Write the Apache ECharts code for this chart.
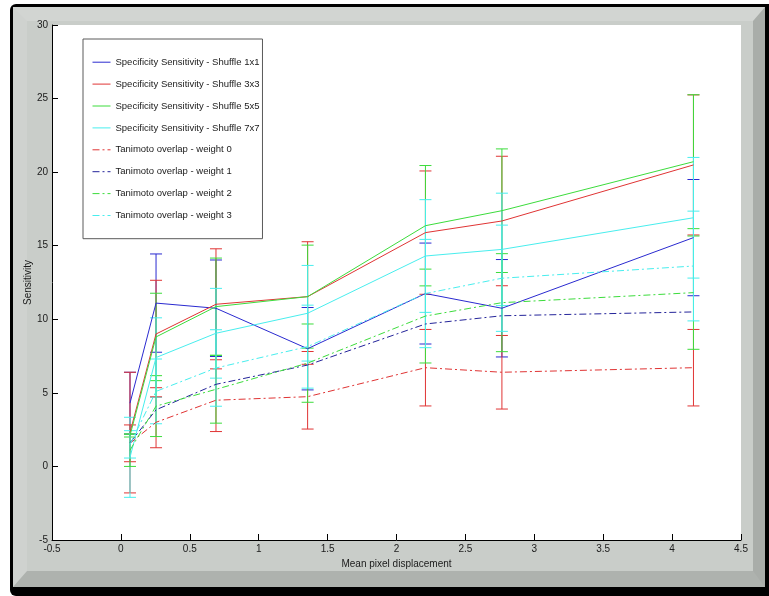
<!DOCTYPE html>
<html>
<head>
<meta charset="utf-8">
<script src="https://cdn.jsdelivr.net/npm/echarts@6/dist/echarts.min.js"></script>
<style>
  html, body { margin: 0; padding: 0; background: #ffffff; }
  #stage { position: relative; width: 769px; height: 596px; overflow: hidden; }
  /* figure window: black shadow frame with a bevelled grey panel */
  #shadow { position: absolute; left: 10px; top: 4px; width: 759px; height: 592px;
            background: #000; border-radius: 6px 0 0 6px; }
  #panel { position: absolute; left: 13px; top: 7px; width: 752px; height: 580px;
           box-sizing: border-box; background: #c9cdc9;
           border-top: 14px solid #d2d5d2; border-left: 14px solid #cfd2cf;
           border-right: 12px solid #a9ada9; border-bottom: 16px solid #aeb2ae; }
  #chart { position: absolute; left: 0; top: 0; width: 769px; height: 596px; }
</style>
</head>
<body>
<div id="stage">
  <div id="shadow"></div>
  <div id="panel"></div>
  <div id="chart"></div>
</div>
<script>
// Mean pixel displacement at which each condition was measured
const displacement = [0.066, 0.255, 0.69, 1.355, 2.21, 2.765, 4.155];

// Specificity sensitivity (mean and standard deviation) per shuffle size
const shuffle1x1 = [4.3, 11.1, 10.75, 8.0, 11.75, 10.75, 15.55];
const shuffle1x1Err = [2.1, 3.34, 3.28, 2.8, 3.43, 3.31, 3.95];
const shuffle3x3 = [2.3, 9.0, 11.02, 11.54, 15.89, 16.68, 20.49];
const shuffle3x3Err = [4.1, 3.65, 3.77, 3.73, 4.19, 4.4, 4.76];
const shuffle5x5 = [2.1, 8.8, 10.86, 11.54, 16.36, 17.38, 20.71];
const shuffle5x5Err = [0.1, 2.97, 3.3, 3.5, 4.09, 4.2, 4.55];
const shuffle7x7 = [0.62, 7.4, 9.05, 10.41, 14.3, 14.75, 16.9];
const shuffle7x7Err = [2.72, 2.7, 3.05, 3.25, 3.83, 3.82, 4.1];

// Tanimoto overlap per weight
const weight0 = [1.57, 3.0, 4.5, 4.74, 6.71, 6.4, 6.71];
const weight0Err = [1.25, 1.73, 2.13, 2.2, 2.6, 2.5, 2.6];
const weight1 = [1.6, 3.85, 5.58, 6.89, 9.68, 10.24, 10.5];
const weight1Err = null;
const weight2 = [1.1, 4.1, 5.24, 7.02, 10.22, 11.13, 11.81];
const weight2Err = [1.1, 2.07, 2.3, 2.66, 3.19, 3.33, 3.85];
const weight3 = [1.5, 5.1, 6.69, 8.14, 11.75, 12.79, 13.62];
const weight3Err = [0.93, 2.2, 2.6, 2.82, 3.68, 3.61, 3.73];

// Axis ticks
const xTicks = { min: -0.5, max: 4.5, interval: 0.5 };
const yTicks = { min: -5, max: 30, interval: 5 };

const BLUE = '#2a2ad0', RED = '#e03434', GREEN = '#3cdc3c', CYAN = '#48eeee';
const DASH_DOT = [7, 3, 2, 3];

const groups = [
  { name: 'Specificity Sensitivity - Shuffle 1x1', y: shuffle1x1, e: shuffle1x1Err, color: BLUE, dash: 'solid' },
  { name: 'Specificity Sensitivity - Shuffle 3x3', y: shuffle3x3, e: shuffle3x3Err, color: RED, dash: 'solid' },
  { name: 'Specificity Sensitivity - Shuffle 5x5', y: shuffle5x5, e: shuffle5x5Err, color: GREEN, dash: 'solid' },
  { name: 'Specificity Sensitivity - Shuffle 7x7', y: shuffle7x7, e: shuffle7x7Err, color: CYAN, dash: 'solid' },
  { name: 'Tanimoto overlap - weight 0', y: weight0, e: weight0Err, color: RED, dash: DASH_DOT },
  { name: 'Tanimoto overlap - weight 1', y: weight1, e: weight1Err, color: '#24249a', dash: DASH_DOT },
  { name: 'Tanimoto overlap - weight 2', y: weight2, e: weight2Err, color: GREEN, dash: DASH_DOT },
  { name: 'Tanimoto overlap - weight 3', y: weight3, e: weight3Err, color: CYAN, dash: DASH_DOT }
];

function errorBarRenderer(color) {
  return function (params, api) {
    const x = api.value(0), y = api.value(1), e = api.value(2);
    const top = api.coord([x, y + e]);
    const bot = api.coord([x, y - e]);
    const hw = 6;
    const style = { stroke: color, lineWidth: 1, fill: null };
    return {
      type: 'group',
      children: [
        { type: 'line', shape: { x1: top[0], y1: top[1], x2: bot[0], y2: bot[1] }, style: style },
        { type: 'line', shape: { x1: top[0] - hw, y1: top[1], x2: top[0] + hw, y2: top[1] }, style: style },
        { type: 'line', shape: { x1: bot[0] - hw, y1: bot[1], x2: bot[0] + hw, y2: bot[1] }, style: style }
      ]
    };
  };
}

const series = [];
groups.forEach(function (g) {
  if (g.e) {
    series.push({
      name: g.name + ' (error)',
      type: 'custom',
      renderItem: errorBarRenderer(g.color),
      data: displacement.map(function (x, i) { return [x, g.y[i], g.e[i]]; }),
      encode: { x: 0, y: 1 },
      silent: true,
      clip: false
    });
  }
  series.push({
    name: g.name,
    type: 'line',
    symbol: 'none',
    showSymbol: false,
    color: g.color,
    data: displacement.map(function (x, i) { return [x, g.y[i]]; }),
    lineStyle: { color: g.color, width: 1, type: g.dash },
    itemStyle: { color: g.color },
    silent: true,
    animation: false
  });
});

const FONT = 'Liberation Sans, Arial, sans-serif';
const chart = echarts.init(document.getElementById('chart'), null, { renderer: 'canvas' });
chart.setOption({
  animation: false,
  backgroundColor: 'transparent',
  grid: { left: 52, right: 28, top: 25, bottom: 56, show: true, backgroundColor: '#ffffff', borderWidth: 0 },
  legend: {
    data: groups.map(function (g) {
      return { name: g.name,
               lineStyle: { color: g.color, width: 1, type: g.dash, opacity: 1 },
               itemStyle: { color: 'rgba(0,0,0,0)', borderWidth: 0 } };
    }),
    orient: 'vertical',
    left: 83, top: 39,
    itemWidth: 18, itemHeight: 13, itemGap: 11.5,
    padding: [18, 3, 18, 9],
    backgroundColor: '#ffffff',
    borderColor: '#5a5a5a', borderWidth: 1,
    textStyle: { fontFamily: FONT, fontSize: 9.5, color: '#1a1a1a' },
    selectedMode: false
  },
  xAxis: {
    type: 'value', min: xTicks.min, max: xTicks.max, interval: xTicks.interval,
    name: 'Mean pixel displacement', nameLocation: 'middle', nameGap: 16,
    nameTextStyle: { fontFamily: FONT, fontSize: 10, color: '#1a1a1a' },
    axisLine: { show: true, onZero: false, lineStyle: { color: '#000', width: 1 } },
    axisTick: { show: true, inside: true, length: 6, lineStyle: { color: '#000' } },
    axisLabel: { fontFamily: FONT, fontSize: 10, color: '#1a1a1a', margin: 4,
                 formatter: function (v) { return String(Math.round(v * 10) / 10); } },
    splitLine: { show: false }
  },
  yAxis: {
    type: 'value', min: yTicks.min, max: yTicks.max, interval: yTicks.interval,
    name: 'Sensitivity', nameLocation: 'middle', nameGap: 19, nameMoveOverlap: false,
    nameTextStyle: { fontFamily: FONT, fontSize: 10, color: '#1a1a1a' },
    axisLine: { show: true, onZero: false, lineStyle: { color: '#000', width: 1 } },
    axisTick: { show: true, inside: true, length: 6, lineStyle: { color: '#000' } },
    axisLabel: { fontFamily: FONT, fontSize: 10, color: '#1a1a1a', margin: 4 },
    splitLine: { show: false }
  },
  series: series
});
</script>
</body>
</html>
